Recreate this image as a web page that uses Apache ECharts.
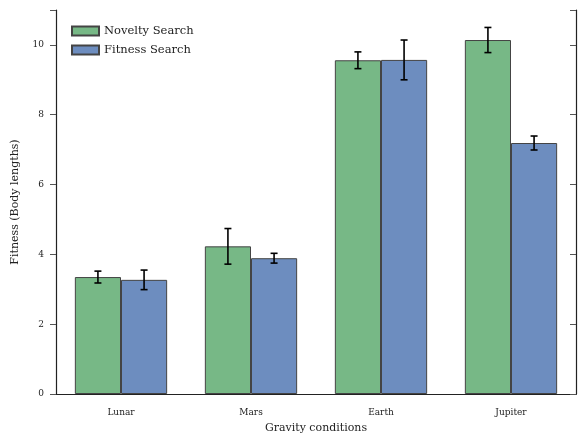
<!DOCTYPE html>
<html><head><meta charset="utf-8">
<script src="https://cdn.jsdelivr.net/npm/echarts@6/dist/echarts.min.js"></script>
<style>html,body{margin:0;padding:0;background:#fff}#c{width:578px;height:439px}</style>
</head><body><div id="c"></div>
<script>
const categories = ['Lunar', 'Mars', 'Earth', 'Jupiter'];
const noveltyValues = [3.35, 4.23, 9.56, 10.14];
const noveltyErrors = [0.17, 0.51, 0.24, 0.36];
const fitnessValues = [3.27, 3.89, 9.57, 7.19];
const fitnessErrors = [0.28, 0.14, 0.57, 0.20];
const yTicks = [0, 2, 4, 6, 8, 10];

const font = 'DejaVu Serif';
const GAP = 0.29;

function errSeries(values, errors, side) {
  return {
    type: 'custom',
    z: 10,
    data: values.map((v, i) => [i, v - errors[i], v + errors[i]]),
    renderItem: function (params, api) {
      const bw = api.size([1, 0])[0];
      const barW = bw * (1 - GAP) / 2;
      const lo = api.coord([api.value(0), api.value(1)]);
      const hi = api.coord([api.value(0), api.value(2)]);
      const x = lo[0] + side * barW / 2;
      const cap = 3.5;
      const st = { stroke: '#000', lineWidth: 1.6 };
      return { type: 'group', children: [
        { type: 'line', shape: { x1: x, y1: lo[1], x2: x, y2: hi[1] }, style: st },
        { type: 'line', shape: { x1: x - cap, y1: lo[1], x2: x + cap, y2: lo[1] }, style: st },
        { type: 'line', shape: { x1: x - cap, y1: hi[1], x2: x + cap, y2: hi[1] }, style: st }
      ]};
    }
  };
}

const chart = echarts.init(document.getElementById('c'));
chart.setOption({
  animation: false,
  textStyle: { fontFamily: font },
  grid: { left: 56, right: 2, top: 10, bottom: 41 },
  legend: {
    left: 66, top: 20, orient: 'vertical', itemWidth: 27, itemHeight: 9, itemGap: 7,
    icon: 'rect',
    textStyle: { fontFamily: font, fontSize: 11.5, color: '#222' },
    data: ['Novelty Search', 'Fitness Search']
  },
  xAxis: [{
    type: 'category', data: categories, boundaryGap: true,
    axisLine: { lineStyle: { color: '#222', width: 1.2 } },
    axisTick: { alignWithLabel: true, length: 6, lineStyle: { color: '#555' } },
    axisLabel: { fontFamily: font, fontSize: 9, color: '#222', margin: 14 },
    name: 'Gravity conditions', nameLocation: 'middle', nameGap: 29,
    nameTextStyle: { fontFamily: font, fontSize: 11, color: '#222' }
  }, {
    type: 'category', data: categories, position: 'top', boundaryGap: true,
    axisLine: { lineStyle: { color: '#222', width: 1.2 } },
    axisTick: { alignWithLabel: true, length: 6, lineStyle: { color: '#555' } },
    axisLabel: { show: false }
  }],
  yAxis: [{
    type: 'value', min: 0, max: 11, interval: 2,
    splitLine: { show: false },
    axisLine: { show: true, lineStyle: { color: '#222', width: 1.2 } },
    axisTick: { show: true, length: 6, lineStyle: { color: '#555' } },
    axisLabel: { fontFamily: font, fontSize: 9, color: '#222', margin: 12,
      formatter: v => yTicks.includes(v) ? String(v) : '' },
    name: 'Fitness (Body lengths)', nameLocation: 'middle', nameGap: 35,
    nameTextStyle: { fontFamily: font, fontSize: 11, color: '#222' }
  }, {
    type: 'value', min: 0, max: 11, interval: 2, position: 'right',
    splitLine: { show: false },
    axisLine: { show: true, lineStyle: { color: '#222', width: 1.2 } },
    axisTick: { show: true, inside: true, length: 6, lineStyle: { color: '#555' } },
    axisLabel: { show: false }
  }],
  series: [{
    name: 'Novelty Search', type: 'bar', data: noveltyValues,
    barGap: '0%', barCategoryGap: (GAP * 100) + '%',
    itemStyle: { color: '#77b886', borderColor: '#444', borderWidth: 1 }
  }, {
    name: 'Fitness Search', type: 'bar', data: fitnessValues,
    barGap: '0%', barCategoryGap: (GAP * 100) + '%',
    itemStyle: { color: '#6d8dbf', borderColor: '#444', borderWidth: 1 }
  },
  errSeries(noveltyValues, noveltyErrors, -1),
  errSeries(fitnessValues, fitnessErrors, 1)]
});
</script></body></html>
